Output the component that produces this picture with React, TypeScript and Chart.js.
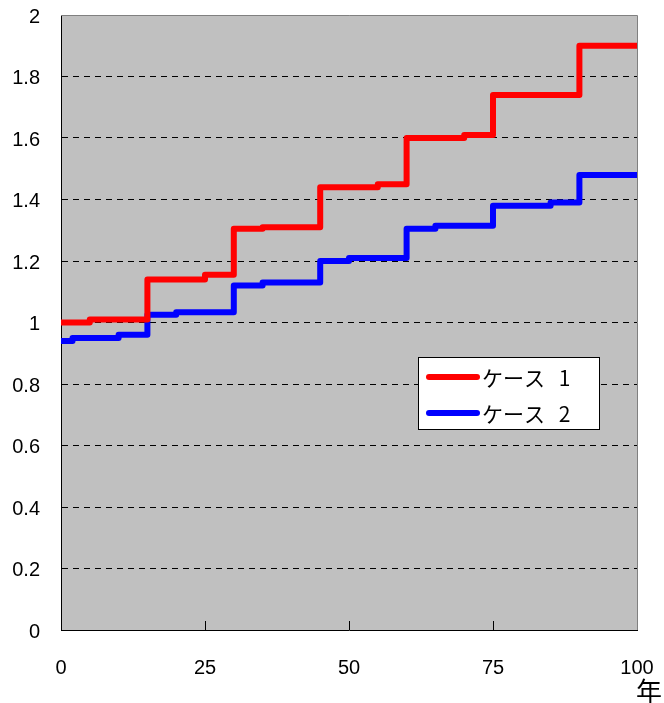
import React, { useEffect, useRef } from "react";
import { Chart, registerables } from "chart.js";

Chart.register(...registerables);

const seriesLabels = ["ケース 1", "ケース 2"];
const seriesColors = ["#FF0000", "#0000FF"];

const case1Years = [0, 5, 15, 25, 30, 35, 45, 55, 60, 70, 75, 90, 100];
const case1Values = [1.0, 1.01, 1.14, 1.155, 1.305, 1.31, 1.44, 1.45, 1.6, 1.61, 1.74, 1.9, 1.9];

const case2Years = [0, 2, 10, 15, 20, 30, 35, 45, 50, 60, 65, 75, 85, 90, 100];
const case2Values = [0.94, 0.95, 0.96, 1.025, 1.033, 1.12, 1.13, 1.2, 1.21, 1.305, 1.315, 1.38, 1.39, 1.48, 1.48];

const xTicks = [0, 25, 50, 75, 100];
const yMin = 0;
const yMax = 2;
const yStep = 0.2;
const xUnit = "年";

const toPoints = (xs: number[], ys: number[]) => xs.map((x, i) => ({ x, y: ys[i] }));

const zeroPad = (s: any) => {
  s.paddingTop = 0;
  s.paddingBottom = 0;
  s.paddingLeft = 0;
  s.paddingRight = 0;
};

const plotDecor = {
  id: "plotDecor",
  beforeDraw(chart: any) {
    const { ctx, chartArea: a } = chart;
    ctx.save();
    ctx.fillStyle = "#C0C0C0";
    ctx.fillRect(a.left, a.top, a.right - a.left, a.bottom - a.top);
    ctx.restore();
  },
  beforeDatasetsDraw(chart: any) {
    const { ctx, chartArea: a, scales } = chart;
    ctx.save();
    ctx.strokeStyle = "#808080";
    ctx.lineWidth = 1;
    ctx.beginPath();
    ctx.moveTo(a.left, a.top + 0.5);
    ctx.lineTo(a.right + 0.5, a.top + 0.5);
    ctx.lineTo(a.right + 0.5, a.bottom);
    ctx.stroke();
    ctx.strokeStyle = "#000";
    ctx.beginPath();
    xTicks.slice(1, -1).forEach((v) => {
      const px = Math.round(scales.x.getPixelForValue(v)) + 0.5;
      ctx.moveTo(px, a.bottom);
      ctx.lineTo(px, a.bottom - 9);
    });
    ctx.stroke();
    ctx.restore();
  },
  afterDraw(chart: any) {
    const { ctx, chartArea: a } = chart;
    ctx.save();
    const bx = a.left + 357;
    const by = a.top + 342;
    const bw = 181;
    const bh = 72;
    ctx.fillStyle = "#FFFFFF";
    ctx.fillRect(bx, by, bw, bh);
    ctx.strokeStyle = "#000";
    ctx.lineWidth = 1;
    ctx.strokeRect(bx + 0.5, by + 0.5, bw, bh);
    chart.data.datasets.forEach((ds: any, i: number) => {
      const cy = by + 20 + i * 36;
      ctx.strokeStyle = ds.borderColor;
      ctx.lineWidth = 6;
      ctx.lineCap = "round";
      ctx.beginPath();
      ctx.moveTo(bx + 11, cy);
      ctx.lineTo(bx + 59, cy);
      ctx.stroke();
      ctx.fillStyle = "#000";
      ctx.font = '21px "Noto Sans CJK JP"';
      ctx.textBaseline = "middle";
      ctx.textAlign = "left";
      (ctx as any).wordSpacing = "9px";
      ctx.fillText(ds.label, bx + 64, cy + 1);
      (ctx as any).wordSpacing = "0px";
    });
    ctx.fillStyle = "#000";
    ctx.font = '26px "Noto Sans CJK JP"';
    ctx.textAlign = "center";
    ctx.textBaseline = "middle";
    ctx.fillText(xUnit, a.right + 12, a.bottom + 61);
    ctx.restore();
  },
};

export default function App() {
  const ref = useRef<HTMLCanvasElement | null>(null);
  useEffect(() => {
    if (!ref.current) return;
    const lineStyle = {
      borderWidth: 6,
      stepped: true,
      pointRadius: 0,
      borderJoinStyle: "round" as const,
      borderCapStyle: "round" as const,
    };
    const chart = new Chart(ref.current, {
      type: "line",
      data: {
        datasets: [
          {
            label: seriesLabels[0],
            data: toPoints(case1Years, case1Values),
            borderColor: seriesColors[0],
            backgroundColor: seriesColors[0],
            ...lineStyle,
          },
          {
            label: seriesLabels[1],
            data: toPoints(case2Years, case2Values),
            borderColor: seriesColors[1],
            backgroundColor: seriesColors[1],
            ...lineStyle,
          },
        ],
      },
      options: {
        responsive: false,
        animation: false,
        devicePixelRatio: 1,
        layout: { padding: { top: 15, right: 27, left: 0, bottom: 0 } },
        plugins: { legend: { display: false }, tooltip: { enabled: false } },
        scales: {
          x: {
            type: "linear",
            min: 0,
            max: 100,
            afterFit: (s: any) => {
              s.height = 73;
              zeroPad(s);
            },
            afterBuildTicks: (s: any) => {
              s.ticks = xTicks.map((v) => ({ value: v }));
            },
            grid: { display: false, drawTicks: false },
            border: { display: true, color: "#000", width: 1 },
            ticks: {
              padding: 26,
              color: "#000",
              font: { family: '"Liberation Sans", Arial, sans-serif', size: 20 },
              maxRotation: 0,
            },
          },
          y: {
            min: yMin,
            max: yMax,
            afterFit: (s: any) => {
              s.width = 61;
              zeroPad(s);
            },
            grid: {
              drawTicks: false,
              color: (c: any) =>
                c.tick && (c.tick.value <= yMin + 1e-9 || c.tick.value >= yMax - 1e-9)
                  ? "rgba(0,0,0,0)"
                  : "#000",
              lineWidth: 1,
            },
            border: { display: true, color: "#000", width: 1, dash: [6, 5] },
            ticks: {
              stepSize: yStep,
              padding: 21,
              labelOffset: 2,
              color: "#000",
              font: { family: '"Liberation Sans", Arial, sans-serif', size: 20 },
              callback: (v: any) => String(Math.round(Number(v) * 10) / 10),
            },
          },
        },
      },
      plugins: [plotDecor],
    });
    return () => chart.destroy();
  }, []);
  return (
    <div style={{ position: "absolute", left: 0, top: 0, width: 664, height: 703, background: "#fff" }}>
      <canvas ref={ref} width={664} height={703} style={{ width: 664, height: 703, display: "block" }} />
    </div>
  );
}
